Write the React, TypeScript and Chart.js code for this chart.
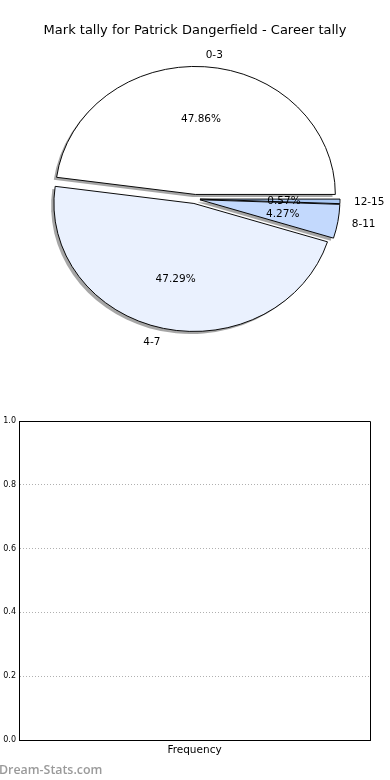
import React, { useEffect, useRef } from 'react';
import { Chart, registerables } from 'chart.js';

Chart.register(...registerables);

// ---- data ----
const TITLE = 'Mark tally for Patrick Dangerfield - Career tally';
const CATEGORIES = ['0-3', '4-7', '8-11', '12-15'];
const COUNTS = [168, 166, 15, 2];
const COLORS = ['#ffffff', '#eaf1fe', '#c3d9fd', '#a9c8f4'];
const Y_TICKS = [0, 0.2, 0.4, 0.6, 0.8, 1.0];
const X_LABEL = 'Frequency';
const WATERMARK = 'Dream-Stats.com';

// ---- style constants ----
const FONT = '"DejaVu Sans", sans-serif';
const PIE_R = 140;
const PIE_SY = 128 / 140;
const EXPLODE = 5;
const SHADOW = 2.8;

const TOTAL = COUNTS.reduce((a, b) => a + b, 0);

const piePlugin = {
  id: 'mplPie',
  beforeDatasetsDraw(chart: any) {
    const ctx = chart.ctx as CanvasRenderingContext2D;
    const arcs = chart.getDatasetMeta(0).data as any[];
    if (!arcs.length) return false;
    const cx = arcs[0].x;
    const cy = arcs[0].y;
    ctx.save();
    ctx.translate(cx, cy);
    ctx.scale(1, PIE_SY);
    ctx.translate(-cx, -cy);
    // shadows
    for (const a of arcs) {
      const mid = (a.startAngle + a.endAngle) / 2;
      ctx.save();
      ctx.translate(Math.cos(mid) * EXPLODE - SHADOW, Math.sin(mid) * EXPLODE + SHADOW);
      ctx.beginPath();
      ctx.moveTo(a.x, a.y);
      ctx.arc(a.x, a.y, a.outerRadius, a.startAngle, a.endAngle);
      ctx.closePath();
      ctx.fillStyle = 'rgba(77,77,77,0.5)';
      ctx.fill();
      ctx.restore();
    }
    // wedges
    for (const a of arcs) {
      const mid = (a.startAngle + a.endAngle) / 2;
      ctx.save();
      ctx.translate(Math.cos(mid) * EXPLODE, Math.sin(mid) * EXPLODE);
      a.draw(ctx);
      ctx.restore();
    }
    ctx.restore();
    return false;
  },
  afterDraw(chart: any) {
    const ctx = chart.ctx as CanvasRenderingContext2D;
    const arcs = chart.getDatasetMeta(0).data as any[];
    const labels = chart.data.labels as string[];
    const values = chart.data.datasets[0].data as number[];
    ctx.save();
    ctx.fillStyle = '#000';
    ctx.textBaseline = 'middle';
    // title
    ctx.font = `13px ${FONT}`;
    ctx.textAlign = 'center';
    ctx.fillText(TITLE, 195, 31);
    ctx.font = `10.5px ${FONT}`;
    arcs.forEach((a, i) => {
      const mid = (a.startAngle + a.endAngle) / 2;
      const R = a.outerRadius;
      const c = Math.cos(mid);
      const s = Math.sin(mid);
      const dl = 1.1 * R + EXPLODE;
      const lx = a.x + c * dl;
      const ly = a.y + s * dl * PIE_SY + 1;
      ctx.textAlign = c > 0 ? 'left' : 'right';
      ctx.fillText(labels[i], lx, ly);
      const dp = 0.6 * R + EXPLODE;
      const px = a.x + c * dp;
      const py = a.y + s * dp * PIE_SY + 1;
      ctx.textAlign = 'center';
      ctx.fillText(((values[i] / TOTAL) * 100).toFixed(2) + '%', px, py);
    });
    ctx.restore();
  },
};

const axPlugin = {
  id: 'axFrame',
  afterDraw(chart: any) {
    const ctx = chart.ctx as CanvasRenderingContext2D;
    const { left, right, top, bottom } = chart.chartArea;
    const al = (p: number) => Math.round(p - 0.5) + 0.5;
    ctx.save();
    ctx.strokeStyle = '#000';
    ctx.lineWidth = 1;
    ctx.beginPath();
    ctx.moveTo(al(left), al(top));
    ctx.lineTo(al(right), al(top));
    ctx.lineTo(al(right), al(bottom));
    ctx.stroke();
    ctx.fillStyle = '#000';
    ctx.textBaseline = 'middle';
    ctx.textAlign = 'center';
    ctx.font = `10.5px ${FONT}`;
    ctx.fillText(X_LABEL, (left + right) / 2, 360);
    ctx.fillStyle = '#9a9a9a';
    ctx.textAlign = 'left';
    ctx.font = `600 12.4px "Open Sans", sans-serif`;
    ctx.fillText(WATERMARK, -1, 380);
    ctx.restore();
  },
};

export default function App() {
  const pieRef = useRef<HTMLCanvasElement>(null);
  const axRef = useRef<HTMLCanvasElement>(null);

  useEffect(() => {
    const order = CATEGORIES.map((_, i) => i).reverse();
    const pie = new Chart(pieRef.current as HTMLCanvasElement, {
      type: 'pie',
      data: {
        labels: order.map((i) => CATEGORIES[i]),
        datasets: [
          {
            data: order.map((i) => COUNTS[i]),
            backgroundColor: order.map((i) => COLORS[i]),
            borderColor: '#000',
            borderWidth: 1,
            borderJoinStyle: 'miter',
            offset: 0,
          } as any,
        ],
      },
      options: {
        responsive: false,
        animation: false,
        events: [],
        rotation: 90,
        radius: PIE_R,
        layout: { padding: { left: 55, right: 55, top: 59, bottom: 51 } },
        plugins: { legend: { display: false }, tooltip: { enabled: false }, title: { display: false } },
      } as any,
      plugins: [piePlugin as any],
    });

    const ax = new Chart(axRef.current as HTMLCanvasElement, {
      type: 'scatter',
      data: { datasets: [{ data: [] }] },
      options: {
        responsive: false,
        animation: false,
        events: [],
        layout: { padding: { top: 31, right: 20, left: 0, bottom: 0 } },
        plugins: { legend: { display: false }, tooltip: { enabled: false }, title: { display: false } },
        scales: {
          x: {
            type: 'linear',
            min: 0,
            max: 1,
            ticks: { display: false },
            grid: { display: false, drawTicks: false },
            border: { display: true, color: '#000', width: 1 },
            afterFit: (s: any) => {
              s.height = 40;
            },
          },
          y: {
            type: 'linear',
            min: 0,
            max: 1,
            afterBuildTicks: (s: any) => {
              s.ticks = Y_TICKS.map((v) => ({ value: v }));
            },
            ticks: {
              callback: (v: any) => Number(v).toFixed(1),
              font: { family: FONT, size: 8 },
              color: '#000',
              padding: 3,
            },
            grid: { color: '#b0b0b0', drawTicks: false, lineWidth: 1 },
            border: { display: true, color: '#000', width: 1, dash: [1, 2] },
            afterFit: (s: any) => {
              s.width = 19;
            },
          },
        },
      } as any,
      plugins: [axPlugin as any],
    });

    return () => {
      pie.destroy();
      ax.destroy();
    };
  }, []);

  return (
    <div style={{ position: 'absolute', left: 0, top: 0, width: 390, height: 780, background: '#fff', overflow: 'hidden' }}>
      <canvas ref={pieRef} width={390} height={390} style={{ position: 'absolute', left: 0, top: 0, width: 390, height: 390 }} />
      <canvas ref={axRef} width={390} height={390} style={{ position: 'absolute', left: 0, top: 390, width: 390, height: 390 }} />
    </div>
  );
}
